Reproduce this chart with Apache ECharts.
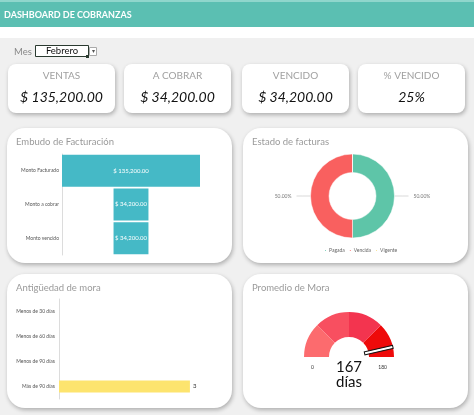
<!DOCTYPE html>
<html>
<head>
<meta charset="utf-8">
<script src="https://cdn.jsdelivr.net/npm/echarts@6/dist/echarts.min.js"></script>
<style>
  html, body { margin: 0; padding: 0; background: #ffffff; }
  #main { width: 474px; height: 415px; }
</style>
</head>
<body>
<div id="main"></div>
<script>
// data
const kpiLabels = ['VENTAS', 'A COBRAR', 'VENCIDO', '% VENCIDO'];
const kpiValues = ['$ 135,200.00', '$ 34,200.00', '$ 34,200.00', '25%'];
const mesSelected = 'Febrero';

const funnelCats = ['Monto Facturado', 'Monto a cobrar', 'Monto vencido'];
const funnelValues = [135200, 34200, 34200];

const estadoCats = ['Pagada', 'Vencida', 'Vigente'];
const estadoValues = [50, 50, 0];

const moraCats = ['Menos de 30 días', 'Menos de 60 días', 'Menos de 90 días', 'Más de 90 días'];
const moraValues = [0, 0, 0, 3];

const promedioMora = 167;
const gaugeTicks = [0, 180];

const FONT = 'Lato, "Open Sans", sans-serif';
const colors = ['#5ec5a8', '#f9605f', '#f7dc7a'];

let myChart = echarts.init(document.getElementById('main'));

const fMax = Math.max(...funnelValues);
const money = v => '$ ' + v.toLocaleString('en-US', { minimumFractionDigits: 2, maximumFractionDigits: 2 });

// cards and panels
const cardX = [8, 124, 242, 358];
const panels = [
  { x: 7, y: 128, w: 225, h: 135, title: 'Embudo de Facturación' },
  { x: 243, y: 128, w: 225, h: 135, title: 'Estado de facturas' },
  { x: 7, y: 274, w: 225, h: 134, title: 'Antigüedad de mora' },
  { x: 243, y: 274, w: 225, h: 134, title: 'Promedio de Mora' }
];
const shadow = { shadowBlur: 4, shadowOffsetX: 1, shadowOffsetY: 2, shadowColor: 'rgba(0,0,0,0.28)' };

let graphics = [
  { type: 'rect', shape: { x: 0, y: 38, width: 474, height: 377 }, style: { fill: '#f0f0f0' } },
  { type: 'rect', shape: { x: 0, y: 0, width: 474, height: 27 }, style: { fill: '#5bbfb2' } },
  { type: 'rect', shape: { x: 0, y: 0, width: 474, height: 2 }, style: { fill: '#8fd6cc' } },
  { type: 'text', style: { x: 4, y: 15, text: 'DASHBOARD DE COBRANZAS', fill: '#fff', fontSize: 9, fontWeight: 'bold', fontFamily: FONT, verticalAlign: 'middle' } },
  { type: 'text', style: { x: 14, y: 52, text: 'Mes', fill: '#888', fontSize: 9.5, fontFamily: FONT, verticalAlign: 'middle' } },
  { type: 'rect', shape: { x: 35.5, y: 45.5, width: 53, height: 11 }, style: { fill: '#fff', stroke: '#2a3a30', lineWidth: 1 } },
  { type: 'text', style: { x: 62, y: 51, text: mesSelected, fill: '#111', fontSize: 9.5, fontFamily: FONT, align: 'center', verticalAlign: 'middle' } },
  { type: 'rect', shape: { x: 89.5, y: 47.5, width: 7, height: 8 }, style: { fill: '#fff', stroke: '#aaa', lineWidth: 1 } },
  { type: 'text', style: { x: 93, y: 51.5, text: '▾', fill: '#555', fontSize: 6, align: 'center', verticalAlign: 'middle' } },
  { type: 'rect', shape: { x: 86, y: 55, width: 3, height: 3 }, style: { fill: '#2a3a30' } }
];

cardX.forEach((x, i) => {
  graphics.push({ type: 'rect', shape: { x: x, y: 64, width: 107, height: 49, r: 8 }, style: Object.assign({ fill: '#fff' }, shadow) });
  graphics.push({ type: 'text', style: { x: x + 53.5, y: 76, text: kpiLabels[i], fill: '#a0a0a0', fontSize: 10, fontFamily: FONT, align: 'center', verticalAlign: 'middle' } });
  graphics.push({ type: 'text', style: { x: x + 53.5, y: 97, text: kpiValues[i], fill: '#111', fontSize: 14, fontStyle: 'italic', fontFamily: FONT, align: 'center', verticalAlign: 'middle' } });
});

panels.forEach(p => {
  graphics.push({ type: 'rect', shape: { x: p.x, y: p.y, width: p.w, height: p.h, r: 18 }, style: Object.assign({ fill: '#fff' }, shadow) });
  graphics.push({ type: 'text', style: { x: p.x + 9, y: p.y + 14, text: p.title, fill: '#9a9a9a', fontSize: 9.5, fontFamily: FONT, verticalAlign: 'middle' } });
});

let option = {
  animation: false,
  graphic: { elements: graphics },
  legend: {
    data: estadoCats,
    left: 318, top: 243,
    icon: 'circle', itemWidth: 3, itemHeight: 3, itemGap: 3,
    textStyle: { fontSize: 5, color: '#666', fontFamily: FONT, padding: [0, 0, 0, -3] }
  },
  grid: [
    { left: 62, top: 154, width: 138, height: 101 },
    { left: 59, top: 299, width: 144, height: 100 }
  ],
  xAxis: [
    { type: 'value', gridIndex: 0, min: 0, max: fMax, show: false },
    { type: 'value', gridIndex: 1, min: 0, max: 3.3, show: false }
  ],
  yAxis: [
    {
      type: 'category', gridIndex: 0, inverse: true, data: funnelCats,
      axisLine: { lineStyle: { color: '#dcdcdc' } }, axisTick: { show: false },
      axisLabel: { fontSize: 5, color: '#555', margin: 3, fontFamily: FONT }
    },
    {
      type: 'category', gridIndex: 1, inverse: true, data: moraCats,
      axisLine: { lineStyle: { color: '#dcdcdc' } }, axisTick: { show: false },
      axisLabel: { fontSize: 5, color: '#555', margin: 4, fontFamily: FONT }
    }
  ],
  series: [
    {
      type: 'bar', xAxisIndex: 0, yAxisIndex: 0, stack: 'funnel', silent: true,
      itemStyle: { color: 'transparent' },
      data: funnelValues.map(v => (fMax - v) / 2),
      barCategoryGap: '5%'
    },
    {
      type: 'bar', xAxisIndex: 0, yAxisIndex: 0, stack: 'funnel',
      itemStyle: { color: '#45b9c6' },
      barCategoryGap: '5%',
      label: { show: true, position: 'inside', color: '#fff', fontSize: 6, fontFamily: FONT, formatter: p => money(p.value) },
      data: funnelValues
    },
    {
      type: 'bar', xAxisIndex: 1, yAxisIndex: 1,
      barWidth: 12,
      itemStyle: { color: '#fde46e' },
      label: { show: true, position: 'right', distance: 3, color: '#333', fontSize: 6, fontFamily: FONT, formatter: p => p.value > 0 ? p.value : '' },
      data: moraValues
    },
    {
      type: 'pie', name: 'Estado', center: [352.5, 196], radius: [23.5, 42],
      startAngle: 90, clockwise: true,
      color: colors,
      itemStyle: { borderColor: '#fff', borderWidth: 0.5 },
      label: { color: '#777', fontSize: 5, fontFamily: FONT, formatter: p => p.percent.toFixed(2) + '%' },
      labelLine: { length: 8, length2: 6, lineStyle: { color: '#c8c8c8', width: 0.7 } },
      data: estadoCats.map((c, i) => ({ name: c, value: estadoValues[i], label: { show: estadoValues[i] > 0 }, labelLine: { show: estadoValues[i] > 0 } }))
    },
    {
      type: 'gauge', center: [349, 357], radius: 45,
      startAngle: 180, endAngle: 0, min: 0, max: 180, splitNumber: 4,
      axisLine: { lineStyle: { width: 25, color: [[0.25, '#fc6b6e'], [0.5, '#f84f60'], [0.75, '#f3344f'], [1, '#ee0a0a']] } },
      splitLine: { length: 25, distance: 0, lineStyle: { color: '#fff', width: 1 } },
      axisTick: { show: false },
      axisLabel: {
        distance: -18, fontSize: 5, lineHeight: 20, color: '#333', fontFamily: FONT,
        formatter: v => gaugeTicks.indexOf(v) >= 0 ? '\n' + v : ''
      },
      pointer: { icon: 'rect', length: 29, width: 3, offsetCenter: [0, -16], itemStyle: { color: '#fff', borderColor: '#111', borderWidth: 1 } },
      anchor: { show: false },
      title: { show: false },
      detail: { formatter: '{value}\ndías', offsetCenter: [0, 18], fontSize: 15, lineHeight: 15, color: '#111', fontWeight: 'normal', fontFamily: FONT },
      data: [{ value: promedioMora }]
    }
  ]
};

myChart.setOption(option);
</script>
</body>
</html>
